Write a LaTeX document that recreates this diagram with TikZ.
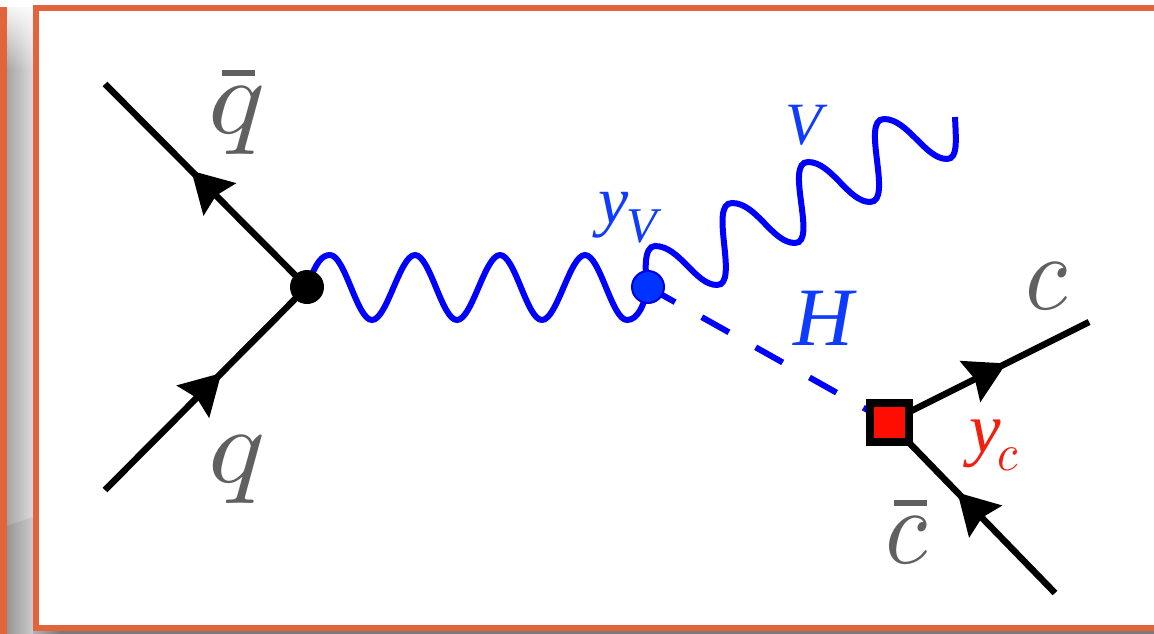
\documentclass[tikz,border=0pt]{standalone}
\usepackage{fontspec}
\setmainfont{Liberation Serif}
\usetikzlibrary{arrows.meta,decorations.markings,backgrounds,fadings}
\definecolor{frameor}{HTML}{E2643A}
\definecolor{greytxt}{HTML}{606060}
\definecolor{bluetxt}{HTML}{0F3BFF}
\definecolor{redtxt}{HTML}{F02010}
\definecolor{redbox}{HTML}{FF0D00}
\definecolor{bluedot}{HTML}{0033FF}
\definecolor{bluering}{HTML}{0000E0}
\newcommand{\fsz}[1]{\fontsize{#1}{#1}\selectfont\itshape}
\font\mibig=cmmi10 at 108pt
\font\mismall=cmmi10 at 52pt
\tikzset{
  fermline/.style={line width=6.5pt,black,postaction={decorate,decoration={markings,
    mark=at position #1pt with {\arrow{Stealth[length=40pt,width=45pt,inset=5pt]}}}}},
  waveline/.style={line width=6pt,blue},
  higgsline/.style={line width=6pt,blue,dash pattern=on 31pt off 30.7pt},
  lab/.style={anchor=base,inner sep=0pt,outer sep=0pt},
  barmark/.style={fill=greytxt,draw=none}
}
\begin{document}
\begin{tikzpicture}[x=1pt,y=-1pt]
\useasboundingbox (0,0) rectangle (1154,634);
% vertices
\node[circle,fill=black,inner sep=0pt,minimum size=34pt] (qv) at (307,287) {};
\node[circle,fill=bluedot,draw=bluering,line width=2pt,inner sep=0pt,minimum size=32pt] (hv) at (648,287) {};
\node[rectangle,fill=redbox,draw=black,line width=8pt,inner sep=0pt,minimum size=39pt] (cv) at (889,422) {};
% free ends
\coordinate (qbarend) at (105,84);
\coordinate (qend) at (105,490);
\coordinate (cend) at (1089,322);
\coordinate (cbarend) at (1055,593);
\coordinate (vend) at (955,117);
\begin{pgfonlayer}{background}
  % frame and shadow
  \fill[white] (0,0) rectangle (1154,634);
  \shade[left color=black!36,right color=black!14] (6,8) rectangle (33,634);
  \fill[white,path fading=south] (0,0) rectangle (33,70);
  \shade[left color=black!42,right color=black!20] (6,526) -- (33,517) -- (33,634) -- (6,634) -- cycle;
  \shade[left color=black!30,right color=black!52] (33,630) rectangle (60,634);
  \fill[black!52] (60,630) rectangle (1154,634);
  \fill[frameor] (0,7) rectangle (6.5,634);
  \draw[frameor,line width=5.5pt] (1154,8) -- (36,8) -- (36,628) -- (1154,628);
  % connectors
  \draw[fermline=164] (qv.center) -- (qbarend);
  \draw[fermline=165] (qend) -- (qv.center);
  \draw[fermline=131] (cv.center) -- (cend);
  \draw[fermline=140] (cbarend) -- (cv.center);
  \draw[higgsline] (hv.center) -- (cv.center);
  \draw[waveline] (qv.center) .. controls (316,262) and (322,255) .. (330,255)
    .. controls (345,255) and (357,320) .. (372,320)
    .. controls (387,320) and (400,255) .. (415,255)
    .. controls (430,255) and (442,320) .. (457,320)
    .. controls (472,320) and (485,255) .. (500,255)
    .. controls (515,255) and (527,320) .. (542,320)
    .. controls (557,320) and (570,255) .. (585,255)
    .. controls (600,255) and (612,320) .. (627,320)
    .. controls (638,320) and (644,305) .. (hv.center);
  \draw[waveline] (hv.center) .. controls (645,275) and (643,246) .. (655,246)
    .. controls (680,246) and (695,285) .. (717,285)
    .. controls (740,285) and (708,203) .. (732,203)
    .. controls (757,203) and (772,243) .. (795,243)
    .. controls (818,243) and (784,162) .. (808,162)
    .. controls (832,162) and (848,202) .. (870,202)
    .. controls (894,202) and (860,119) .. (884,119)
    .. controls (908,119) and (925,159) .. (947,159)
    .. controls (958,159) and (956,140) .. (vend);
\end{pgfonlayer}
% labels
\node[lab,text=greytxt,font=\mibig] (lqbar) at (235.5,133) {\scalebox{1.1}[1]{q}};
\fill[barmark] (222,70) rectangle (255,76);
\node[lab,text=greytxt,font=\mibig] (lq) at (235.5,482) {\scalebox{1.1}[1]{q}};
\node[lab,text=greytxt,font=\mibig] (lc) at (1047,309) {\scalebox{0.9}[1]{c}};
\node[lab,text=greytxt,font=\mibig] (lcbar) at (907,563) {\scalebox{0.9}[1]{c}};
\fill[barmark] (894,500) rectangle (927,506);
\node[lab,text=bluetxt,font=\fsz{60}] (lv) at (804,144) {V};
\node[lab,anchor=base west,text=bluetxt,font=\fsz{68}] (lyv) at (598,223) {y\kern-2pt\raisebox{-19pt}{\fsz{50}V}};
\node[lab,text=bluetxt,font=\fsz{83}] (lh) at (823,345) {H};
\node[lab,anchor=base west,text=redtxt,font=\fsz{71}] (lyc) at (969,452) {y\kern-3pt\raisebox{-18pt}{\mismall\scalebox{0.9}[1]{c}}};
\end{tikzpicture}
\end{document}
